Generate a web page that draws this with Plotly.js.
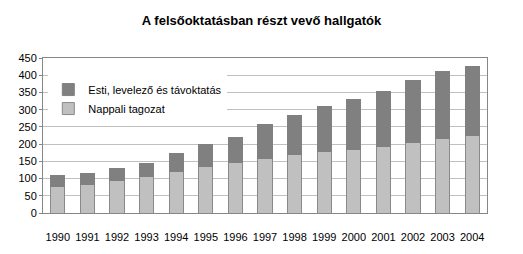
<!DOCTYPE html>
<html><head><meta charset="utf-8">
<script src="https://cdn.plot.ly/plotly-3.0.1.min.js"></script>
<style>html,body{margin:0;padding:0;background:#fff}</style>
</head><body>
<div id="chart" style="width:523px;height:254px"></div>
<script>
const years = ['1990','1991','1992','1993','1994','1995','1996','1997','1998','1999','2000','2001','2002','2003','2004'];
const nappali = [76, 82, 94, 105, 120, 135, 146, 157, 169, 179, 184, 193, 205, 217, 225];
const esti = [34, 34, 34, 40, 52, 63, 73, 100, 114, 130, 146, 160, 181, 195, 199];
const yTicks = [0,50,100,150,200,250,300,350,400,450];

const data = [
  {type:'bar', name:'Nappali tagozat', x:years, y:nappali,
   marker:{color:'#c0c0c0', line:{color:'#8a8a8a', width:1}}},
  {type:'bar', name:'Esti, levelező és távoktatás', x:years, y:esti,
   marker:{color:'#808080', line:{color:'#808080', width:1}}}
];
const layout = {
  width:523, height:254,
  margin:{l:43, r:36, t:58, b:41},
  paper_bgcolor:'#fff', plot_bgcolor:'#fff',
  barmode:'stack', bargap:0.52,
  font:{family:'Liberation Sans, Arial, sans-serif', size:11, color:'#000'},
  title:{text:'<b>A felsőoktatásban részt vevő hallgatók</b>', x:0.5, xanchor:'center', y:0.92, yanchor:'middle',
         font:{size:13, color:'#000'}},
  xaxis:{type:'category', showgrid:false, showline:true, linecolor:'#868686', linewidth:1,
         ticks:'', ticklabelstandoff:14, mirror:true, tickfont:{size:11}},
  yaxis:{range:[0,450], tickvals:yTicks, showgrid:true, gridcolor:'#c0c0c0', gridwidth:1,
         showline:true, linecolor:'#868686', linewidth:1, mirror:true,
         ticks:'outside', ticklen:3, tickcolor:'#868686', zeroline:false, tickfont:{size:11}},
  showlegend:true,
  legend:{x:0.012, xanchor:'left', y:0.89, yanchor:'top', bgcolor:'#fff', traceorder:'reversed',
          font:{size:11}, itemwidth:30, tracegroupgap:0}
};
Plotly.newPlot('chart', data, layout, {displayModeBar:false, staticPlot:true});
</script>
</body></html>
